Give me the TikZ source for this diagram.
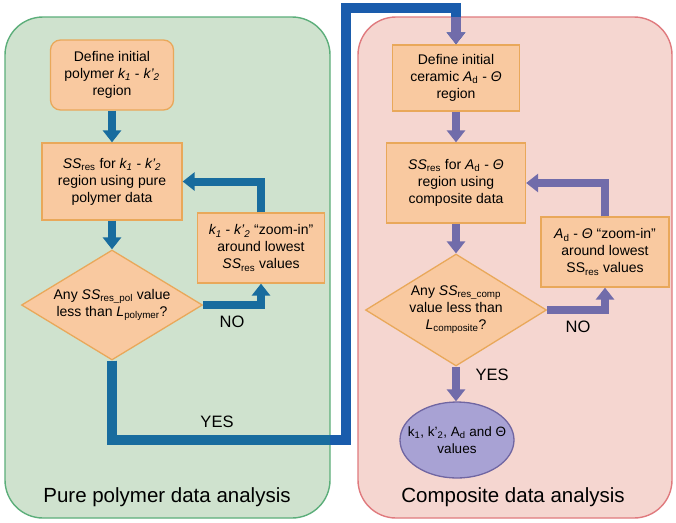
\documentclass[tikz,border=0pt]{standalone}
\usepackage{fontspec}
\setmainfont{Liberation Sans}
\usetikzlibrary{arrows.meta,shapes.geometric}

\definecolor{panelGreenFill}{RGB}{207,226,206}
\definecolor{panelGreenLine}{RGB}{92,174,122}
\definecolor{panelPinkFill}{RGB}{245,214,208}
\definecolor{panelPinkLine}{RGB}{224,122,126}
\definecolor{boxFill}{RGB}{249,201,160}
\definecolor{boxLine}{RGB}{233,168,90}
\definecolor{flowTeal}{RGB}{24,108,158}
\definecolor{flowBlue}{RGB}{26,92,172}
\definecolor{flowPurple}{RGB}{113,108,170}
\definecolor{ovalFill}{RGB}{168,162,212}
\definecolor{ovalLine}{RGB}{112,102,162}

\tikzset{
  panel/.style={line width=1.4pt, rounded corners=38pt},
  procbox/.style={draw=boxLine, fill=boxFill, line width=1.3pt, align=center,
    inner sep=0pt, font=\fontsize{14}{17}\selectfont},
  decision/.style={diamond, draw=boxLine, fill=boxFill, line width=1.3pt,
    align=center, inner sep=0pt, aspect=1.65, font=\fontsize{14}{17}\selectfont},
  result/.style={ellipse, draw=ovalLine, fill=ovalFill, line width=1.3pt,
    align=center, inner xsep=-14pt, inner ysep=0pt, font=\fontsize{13.5}{16.5}\selectfont},
  flow/.style={line width=8pt, -{Triangle[width=18pt,length=12pt]}},
  bigflow/.style={line width=10pt, -{Triangle[width=18pt,length=12pt]}},
  answer/.style={font=\fontsize{16.5}{19}\selectfont},
  paneltitle/.style={font=\fontsize{20.5}{24}\selectfont}
}

\begin{document}
\begin{tikzpicture}[x=1pt, y=-1pt]
\useasboundingbox (0,0) rectangle (676,522);
\fill[white] (0,0) rectangle (676,522);

% the two analysis panels
\draw[panel, draw=panelGreenLine, fill=panelGreenFill] (5,17) rectangle (330,518);
\draw[panel, draw=panelPinkLine, fill=panelPinkFill] (358,17) rectangle (672,518);
\node[paneltitle] (ttlL) at (167,497) {Pure polymer data analysis};
\node[paneltitle] (ttlR) at (513,497) {Composite data analysis};

% pure polymer steps
\node[procbox, rounded corners=10pt, minimum width=123pt, minimum height=70pt] (p1) at (112,75)
  {Define initial\\polymer \textit{k\textsubscript{1}} - \textit{k’\textsubscript{2}}\\region};
\node[procbox, minimum width=140pt, minimum height=77pt] (p2) at (112,181.5)
  {\textit{SS}\textsubscript{res} for \textit{k\textsubscript{1}} - \textit{k’\textsubscript{2}}\\region using pure\\polymer data};
\node[procbox, minimum width=127pt, minimum height=70pt] (p3) at (261,248)
  {\textit{k\textsubscript{1}} - \textit{k’\textsubscript{2}} “zoom-in”\\around lowest\\\textit{SS}\textsubscript{res} values};
\node[decision, minimum width=181pt, minimum height=110pt] (p4) at (112,305)
  {Any \textit{SS}\textsubscript{res\_pol} value\\less than \textit{L}\textsubscript{polymer}?};

% composite steps
\node[procbox, minimum width=127pt, minimum height=66pt] (c1) at (456,78)
  {Define initial\\ceramic \textit{A}\textsubscript{d} - \textit{Θ}\\region};
\node[procbox, minimum width=139pt, minimum height=80pt] (c2) at (456,183)
  {\textit{SS}\textsubscript{res} for \textit{A}\textsubscript{d} - \textit{Θ}\\region using\\composite data};
\node[procbox, minimum width=128pt, minimum height=70pt] (c3) at (605,252)
  {\textit{A}\textsubscript{d} - \textit{Θ} “zoom-in”\\around lowest\\SS\textsubscript{res} values};
\node[decision, minimum width=181pt, minimum height=112pt] (c4) at (456,310)
  {Any \textit{SS}\textsubscript{res\_comp}\\value less than\\\textit{L}\textsubscript{composite}?};
\node[result, minimum width=114pt, minimum height=76pt] (c5) at (457,440)
  {k\textsubscript{1}, k’\textsubscript{2}, A\textsubscript{d} and Θ\\values};

% connectors inside the polymer panel
\draw[flow, flowTeal] (p1) -- (p2);
\draw[flow, flowTeal] (p2) -- (p4);
\draw[flow, flowTeal] (p4.east) -| (p3.south);
\draw[flow, flowTeal] (p3.north) |- (p2.east);
\node[answer] (noL) at (232,322) {NO};

% connectors inside the composite panel
\draw[flow, flowPurple] (c1) -- (c2);
\draw[flow, flowPurple] (c2) -- (c4);
\draw[flow, flowPurple] (c4.east) -| (c3.south);
\draw[flow, flowPurple] (c3.north) |- (c2.east);
\draw[flow, flowPurple] (c4.south) -- (c4.south |- c5.north);
\node[answer] (noR) at (578,327) {NO};
\node[answer] (yesR) at (492,375) {YES};

% hand-over from the polymer stage to the composite stage
\coordinate (yesLow) at (346,440);
\coordinate (yesTop) at (346,8);
\draw[bigflow, flowBlue] (p4.south) |- (yesLow) -- (yesTop) -| (c1.north);
\begin{scope}
  \clip (5,17) rectangle (330,518);
  \draw[bigflow, flowTeal] (p4.south) |- (yesLow) -- (yesTop) -| (c1.north);
\end{scope}
\begin{scope}
  \clip (358,17) rectangle (672,518);
  \draw[bigflow, flowPurple] (p4.south) |- (yesLow) -- (yesTop) -| (c1.north);
\end{scope}
\node[answer] (yesL) at (217,422) {YES};
\end{tikzpicture}
\end{document}
